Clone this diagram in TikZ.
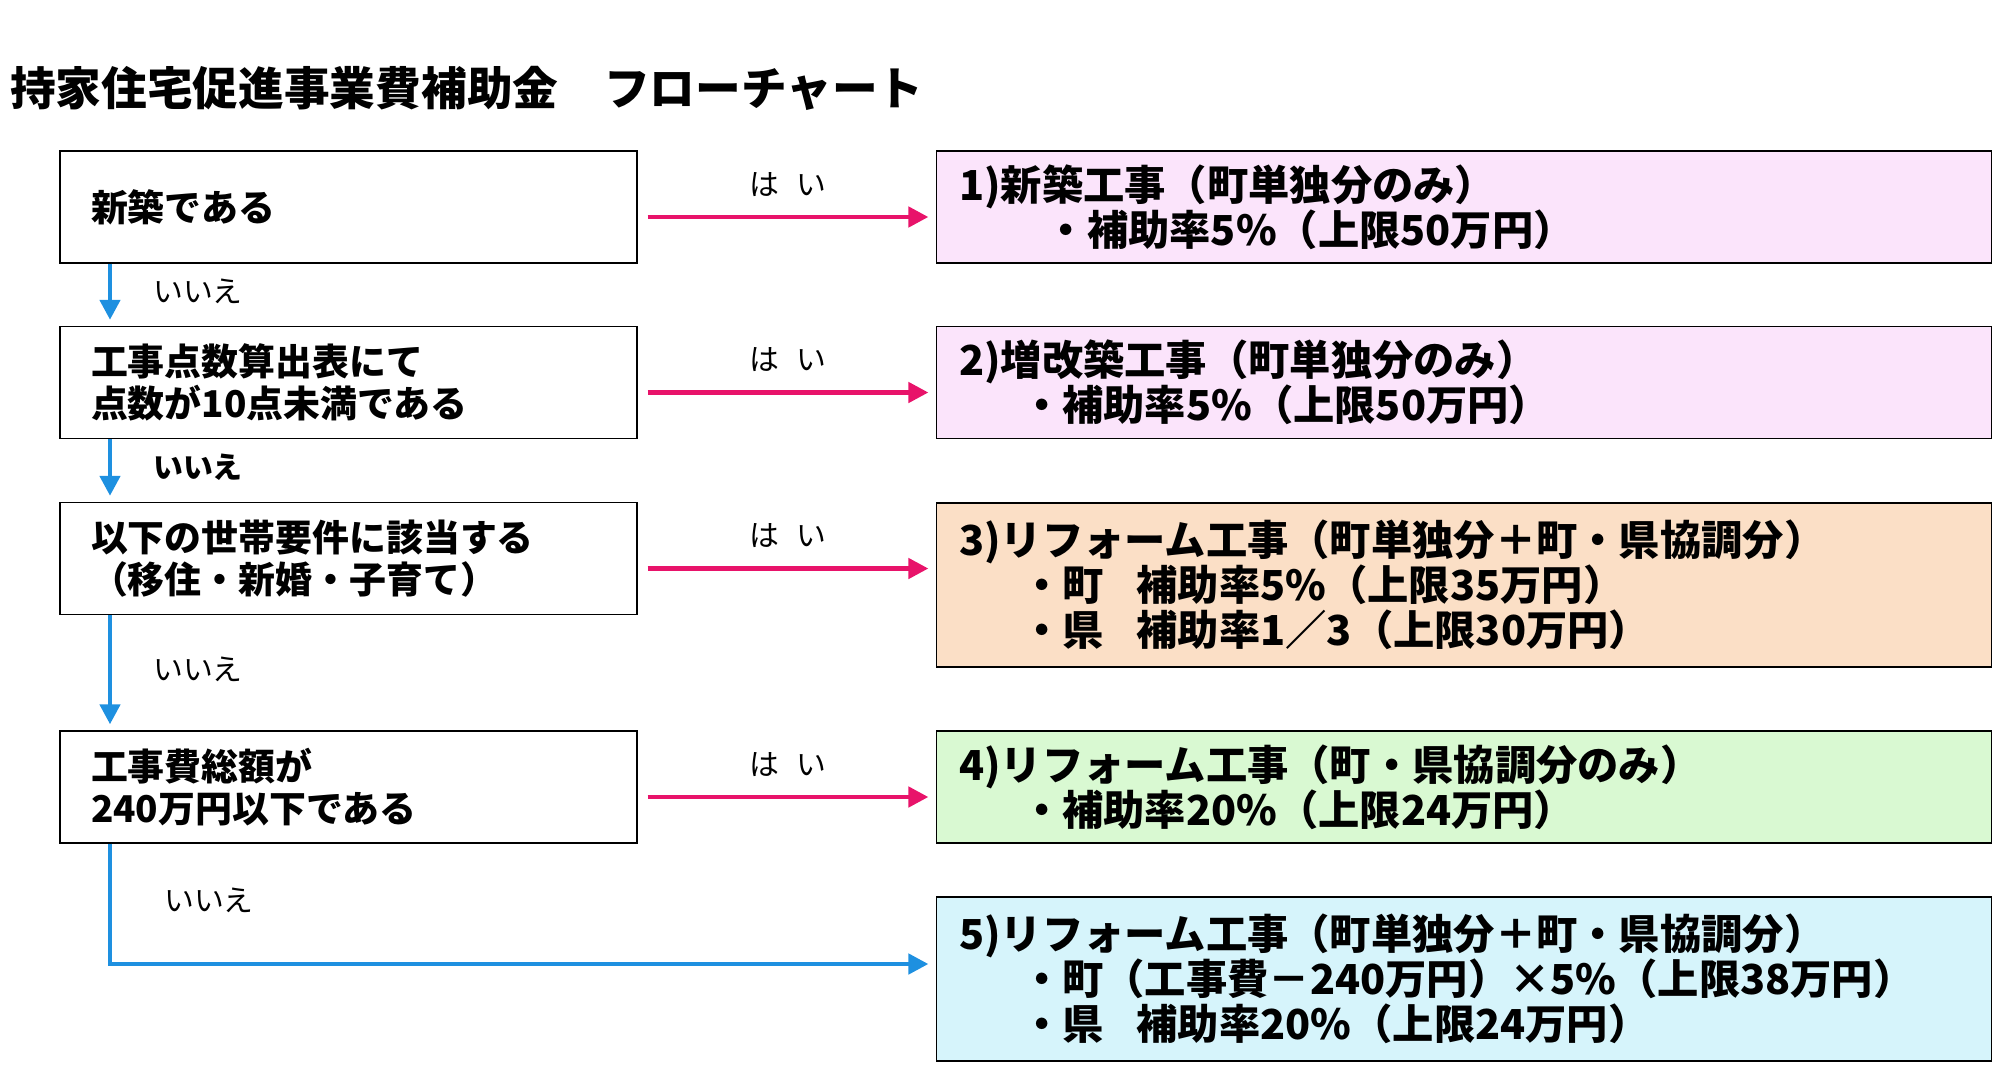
\documentclass[tikz,border=0pt]{standalone}
\usepackage{fontspec}
\setmainfont{Noto Sans CJK JP}
\usetikzlibrary{arrows.meta,positioning}
\definecolor{yespink}{HTML}{E8136A}
\definecolor{noblue}{HTML}{1E90E0}
\definecolor{fillpink}{HTML}{FBE4FB}
\definecolor{fillpeach}{HTML}{FBDFC6}
\definecolor{fillgreen}{HTML}{D9F9D2}
\definecolor{fillblue}{HTML}{D6F4FB}

\begin{document}
\begin{tikzpicture}[x=0.02cm,y=-0.02cm,>={Triangle[length=0.4cm,width=0.4cm]}]
\tikzset{
question/.style = {draw, thick, rectangle, minimum width=11.54cm, minimum height=2.24cm,
  text width=10.3cm, inner xsep=0.62cm, align=left, font=\fontsize{21}{24}\selectfont\bfseries},
result/.style = {draw, thick, rectangle, minimum width=21.1cm, minimum height=2.24cm,
  text width=20.2cm, inner xsep=0.45cm, align=left, font=\fontsize{23.5}{25.5}\selectfont\bfseries},
yes/.style = {yespink, line width=2.6pt, ->},
no/.style = {noblue, line width=2.6pt, ->},
lbl/.style = {text=black, font=\fontsize{17}{19}\selectfont}
}
\useasboundingbox (0,0) rectangle (2000,1075);

\node [anchor=west, font=\fontsize{26}{30}\selectfont\bfseries] (title) at (4,88) {持家住宅促進事業費補助金\hspace{1em}フローチャート};

% questions
\node [question] (q1) at (348.5,207) {新築である};
\node [question] (q2) at (348.5,382.5) {工事点数算出表にて\\点数が10点未満である};
\node [question] (q3) at (348.5,558.5) {以下の世帯要件に該当する\\（移住・新婚・子育て）};
\node [question] (q4) at (348.5,787) {工事費総額が\\240万円以下である};

% results
\node [result, fill=fillpink] (r1) at (1464,207) {1)新築工事（町単独分のみ）\\\hspace{2.1em}・補助率5\%（上限50万円）};
\node [result, fill=fillpink] (r2) at (1464,382.5) {2)増改築工事（町単独分のみ）\\\hspace{1.5em}・補助率5\%（上限50万円）};
\node [result, fill=fillpeach, minimum height=3.28cm] (r3) at (1464,585) {3)リフォーム工事（町単独分＋町・県協調分）\\\hspace{1.5em}・町\hspace{0.8em}補助率5\%（上限35万円）\\\hspace{1.5em}・県\hspace{0.8em}補助率1／3（上限30万円）};
\node [result, fill=fillgreen] (r4) at (1464,787) {4)リフォーム工事（町・県協調分のみ）\\\hspace{1.5em}・補助率20\%（上限24万円）};
\node [result, fill=fillblue, minimum height=3.28cm] (r5) at (1464,979) {5)リフォーム工事（町単独分＋町・県協調分）\\\hspace{1.5em}・町（工事費－240万円）×5\%（上限38万円）\\\hspace{1.5em}・県\hspace{0.8em}補助率20\%（上限24万円）};

\coordinate (turn) at (110,964);

% yes arrows
\foreach \i in {1,2,3,4}{
  \draw [yes] ([xshift=0.2cm,yshift=-0.2cm]q\i.east) -- node [lbl, above=0.25cm] {は\hspace{0.6em}い} ([xshift=-0.15cm,yshift=-0.2cm]r\i.west|-q\i.east);
}

% no arrows
\draw [no] (q1.south-|turn) -- node [lbl, right=0.7cm] {いいえ} ([yshift=0.12cm]q2.north-|turn);
\draw [no] (q2.south-|turn) -- node [lbl, right=0.7cm] {\bfseries いいえ} ([yshift=0.12cm]q3.north-|turn);
\draw [no] (q3.south-|turn) -- node [lbl, right=0.7cm] {いいえ} ([yshift=0.12cm]q4.north-|turn);
\draw [no] (q4.south-|turn) -- (turn) -- ([xshift=-0.15cm]r5.west|-turn);
\node [lbl, anchor=west] (lastno) at (158,900) {いいえ};
\end{tikzpicture}
\end{document}
